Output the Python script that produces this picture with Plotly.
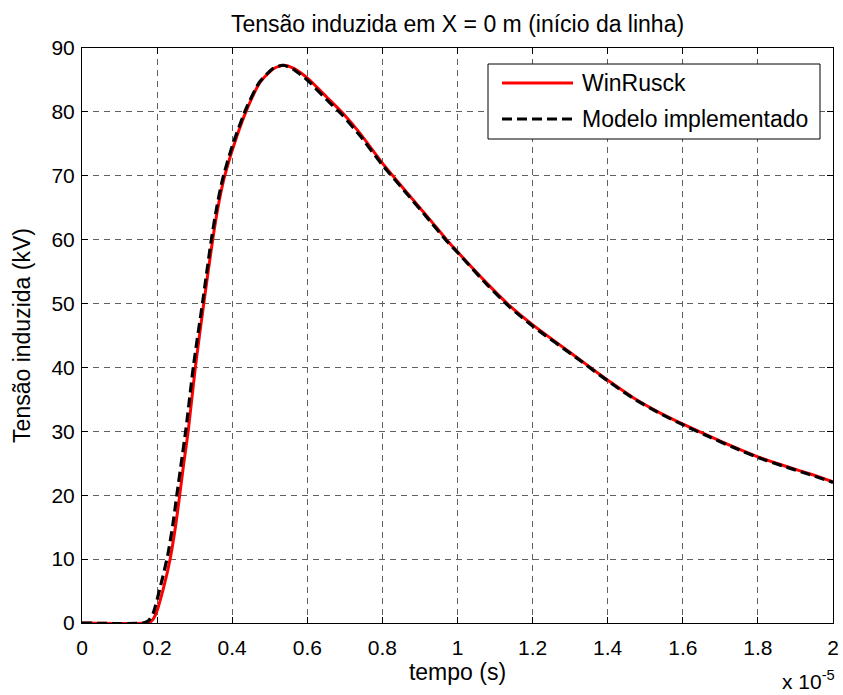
import plotly.graph_objects as go

# Time axis in units of 1e-5 s, voltage in kV
t_winrusck = [0, 0.17, 0.185, 0.196, 0.218, 0.235, 0.249, 0.26, 0.271, 0.283, 0.302,
              0.324, 0.347, 0.362, 0.378, 0.404, 0.44, 0.475, 0.511, 0.537,
              0.564, 0.602, 0.652, 0.696, 0.741, 0.801, 0.865, 0.927, 0.971, 1.0,
              1.078, 1.14, 1.204, 1.317, 1.379, 1.405, 1.467, 1.539, 1.605, 1.672,
              1.734, 1.80, 1.876, 1.946, 2.0]
v_winrusck = [0, 0, 0.3, 1.3, 5.7, 10.1, 15.1, 19.9, 25.0, 30.1, 40.1,
              49.9, 59.6, 65.0, 69.5, 74.7, 80.5, 84.7, 86.8, 87.3,
              86.8, 85.2, 82.3, 79.7, 76.6, 71.9, 67.4, 63.1, 60.0, 58.1,
              53.2, 49.6, 46.5, 41.6, 38.9, 37.8, 35.3, 32.9, 31.0, 29.2,
              27.6, 26.0, 24.5, 23.2, 22.1]

t_modelo = [0, 0.163, 0.178, 0.19, 0.21, 0.228, 0.242, 0.253, 0.265, 0.277, 0.297,
            0.321, 0.344, 0.359, 0.375, 0.401, 0.437, 0.472, 0.509, 0.535,
            0.562, 0.6, 0.65, 0.695, 0.74, 0.8, 0.865, 0.927, 0.971, 1.0,
            1.078, 1.14, 1.204, 1.317, 1.379, 1.405, 1.467, 1.539, 1.605, 1.672,
            1.734, 1.80, 1.876, 1.946, 2.0]
v_modelo = [0, 0, 0.4, 1.6, 6.0, 10.5, 15.4, 20.2, 25.3, 30.4, 40.3,
            50.1, 59.8, 65.1, 69.6, 74.8, 80.5, 84.6, 86.8, 87.3,
            86.7, 85.0, 82.0, 79.4, 76.3, 71.7, 67.2, 62.9, 59.8, 58.0,
            53.0, 49.4, 46.3, 41.5, 38.8, 37.7, 35.2, 32.8, 30.9, 29.1,
            27.5, 25.9, 24.4, 23.1, 22.0]

x_ticks = [0, 0.2, 0.4, 0.6, 0.8, 1.0, 1.2, 1.4, 1.6, 1.8, 2.0]
x_ticklabels = ["0", "0.2", "0.4", "0.6", "0.8", "1", "1.2", "1.4", "1.6", "1.8", "2"]
y_ticks = [0, 10, 20, 30, 40, 50, 60, 70, 80, 90]

names = ["WinRusck", "Modelo implementado"]

W, H = 843, 695
ML, MR, MT, MB = 82, 10, 48, 72
PW, PH = W - ML - MR, H - MT - MB
FONT = "Liberation Sans, Arial, Helvetica, sans-serif"


def px(xp):
    return (xp - ML) / PW


def py(yp):
    return (H - MB - yp) / PH


fig = go.Figure()
fig.add_trace(go.Scatter(x=t_winrusck, y=v_winrusck, mode="lines", name=names[0],
                         line=dict(color="#ff0000", width=3, shape="spline", smoothing=0.6)))
fig.add_trace(go.Scatter(x=t_modelo, y=v_modelo, mode="lines", name=names[1],
                         line=dict(color="#000000", width=3.2, dash="10px,5px",
                                   shape="spline", smoothing=0.6)))

axis_common = dict(
    showline=True, linecolor="black", linewidth=1, mirror="ticks",
    ticks="inside", ticklen=6, tickcolor="black", tickwidth=1,
    showgrid=True, gridcolor="#606060", gridwidth=1, griddash="6px,5px",
    zeroline=False, automargin=False, ticklabeloverflow="allow",
    tickfont=dict(family=FONT, size=21, color="black"),
)
fig.update_xaxes(range=[0, 2], tickvals=x_ticks, ticktext=x_ticklabels,
                 ticklabelstandoff=6,
                 title=dict(text="tempo (s)", font=dict(family=FONT, size=23, color="black"),
                            standoff=5),
                 **axis_common)
fig.update_yaxes(range=[0, 90], tickvals=y_ticks, ticklabelstandoff=2,
                 title=dict(text="Tensão induzida (kV)", font=dict(family=FONT, size=23, color="black"),
                            standoff=14),
                 **axis_common)

# Legend box drawn in pixel-derived paper coordinates
lx0, lx1, ly0, ly1 = 488, 820, 64, 139
shapes = [
    dict(type="rect", xref="paper", yref="paper", x0=px(lx0), x1=px(lx1), y0=py(ly1), y1=py(ly0),
         line=dict(color="black", width=1), fillcolor="white", layer="above"),
    dict(type="line", xref="paper", yref="paper", x0=px(502), x1=px(573), y0=py(83), y1=py(83),
         line=dict(color="#ff0000", width=3), layer="above"),
    dict(type="line", xref="paper", yref="paper", x0=px(502), x1=px(573), y0=py(119), y1=py(119),
         line=dict(color="black", width=3.2, dash="10px,5px"), layer="above"),
]
annotations = [
    dict(text=names[0], xref="paper", yref="paper", x=px(580), y=py(83), xanchor="left",
         yanchor="middle", showarrow=False, font=dict(family=FONT, size=23, color="black")),
    dict(text=names[1], xref="paper", yref="paper", x=px(580), y=py(119), xanchor="left",
         yanchor="middle", showarrow=False, font=dict(family=FONT, size=23, color="black")),
    dict(text="x 10<sup>-5</sup>", xref="paper", yref="paper", x=px(837), y=py(680),
         xanchor="right", yanchor="middle", showarrow=False,
         font=dict(family=FONT, size=21, color="black")),
]

fig.update_layout(
    width=W, height=H,
    margin=dict(l=ML, r=MR, t=MT, b=MB, autoexpand=False),
    paper_bgcolor="white", plot_bgcolor="white",
    showlegend=False,
    title=dict(text="Tensão induzida em X = 0 m (início da linha)",
               x=px(457.5), xref="paper", xanchor="center",
               y=1 - 24 / H, yref="container", yanchor="middle",
               font=dict(family=FONT, size=23, color="black")),
    shapes=shapes, annotations=annotations,
)

fig.write_html("out.html")
